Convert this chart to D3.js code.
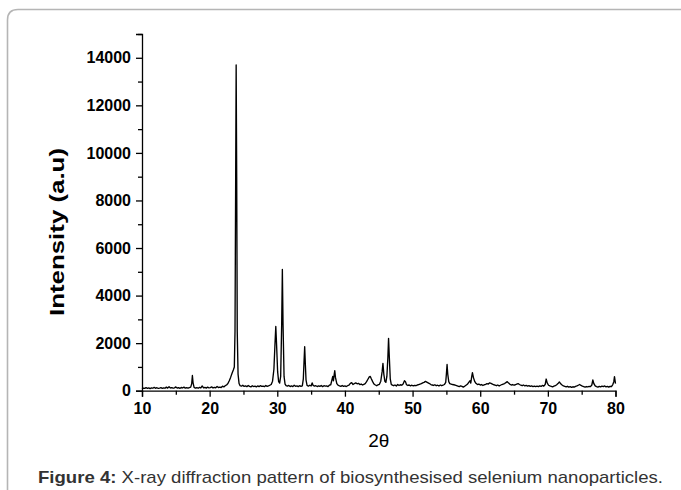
<!DOCTYPE html>
<html>
<head>
<meta charset="utf-8">
<script src="https://cdn.jsdelivr.net/npm/d3@7"></script>
<style>
  html, body { margin: 0; padding: 0; background: #fff; }
  svg { display: block; }
</style>
</head>
<body>
<svg id="chart" width="681" height="490"></svg>
<script>
// ---- data (2θ in degrees, intensity in a.u.) ----
const pattern = [
  [10,80],[10.2,110],[10.4,95],[10.6,130],[10.8,100],[11,120],[11.2,90],[11.4,115],[11.6,105],[11.8,140],
  [12,100],[12.2,125],[12.4,95],[12.6,110],[12.8,130],[13,100],[13.2,120],[13.4,105],[13.6,150],[13.8,110],
  [14,170],[14.2,115],[14.4,130],[14.6,105],[14.8,120],[15,160],[15.2,110],[15.4,125],[15.6,100],[15.8,135],
  [16,115],[16.2,150],[16.4,110],[16.6,125],[16.8,105],[17,130],[17.2,150],[17.35,300],[17.45,640],[17.55,330],
  [17.7,140],[17.9,110],[18.1,125],[18.3,105],[18.5,140],[18.7,115],[18.9,200],[19.1,120],[19.3,135],[19.5,110],
  [19.7,150],[19.9,120],[20.1,130],[20.3,160],[20.5,115],[20.7,140],[20.9,125],[21.1,180],[21.3,130],[21.5,150],
  [21.7,135],[21.9,190],[22.1,160],[22.3,210],[22.5,240],[22.7,300],[22.9,420],[23.1,560],[23.3,720],[23.5,870],
  [23.65,1000],[23.75,2500],[23.85,9000],[23.92,13700],[24.0,9000],[24.08,2500],[24.2,700],[24.35,300],[24.5,210],[24.7,190],
  [24.9,230],[25.1,180],[25.3,200],[25.5,170],[25.7,220],[25.9,180],[26.1,160],[26.3,210],[26.5,175],[26.7,190],
  [26.9,160],[27.1,200],[27.3,170],[27.5,210],[27.7,180],[27.9,195],[28.1,170],[28.3,220],[28.5,180],[28.7,200],
  [28.9,230],[29.1,260],[29.3,400],[29.5,900],[29.65,1900],[29.78,2700],[29.9,1900],[30.05,800],[30.2,380],[30.35,320],
  [30.5,600],[30.65,2800],[30.75,5100],[30.85,2800],[31.0,600],[31.15,280],[31.3,210],[31.5,190],[31.7,220],[31.9,175],
  [32.1,200],[32.3,170],[32.5,230],[32.7,185],[32.9,200],[33.1,170],[33.3,210],[33.5,180],[33.7,200],[33.85,500],
  [33.95,1200],[34.05,1850],[34.15,1100],[34.25,450],[34.4,220],[34.6,190],[34.8,230],[35.0,200],[35.15,330],[35.3,220],
  [35.5,190],[35.7,210],[35.9,175],[36.1,200],[36.3,180],[36.5,220],[36.7,170],[36.9,210],[37.1,190],[37.3,200],
  [37.5,175],[37.7,230],[37.9,250],[38.05,420],[38.2,600],[38.3,420],[38.42,700],[38.5,840],[38.6,560],[38.8,300],
  [39.0,230],[39.2,200],[39.4,180],[39.6,220],[39.8,185],[40.0,200],[40.2,175],[40.4,210],[40.6,230],[40.8,310],
  [41.0,340],[41.2,260],[41.4,300],[41.6,330],[41.8,290],[42.0,310],[42.2,260],[42.4,280],[42.6,240],[42.8,270],
  [43.0,300],[43.2,380],[43.4,480],[43.6,580],[43.75,600],[43.9,500],[44.1,380],[44.3,280],[44.5,240],[44.7,210],
  [44.9,250],[45.1,270],[45.3,400],[45.5,800],[45.62,1150],[45.75,700],[45.9,400],[46.05,350],[46.2,600],[46.35,1400],
  [46.45,2200],[46.55,1500],[46.7,500],[46.85,270],[47.0,230],[47.2,210],[47.4,240],[47.6,200],[47.8,260],[48.0,220],
  [48.2,250],[48.4,230],[48.6,280],[48.8,420],[48.95,380],[49.1,250],[49.3,220],[49.5,240],[49.7,205],[49.9,230],
  [50.1,200],[50.3,225],[50.5,210],[50.7,240],[50.9,260],[51.1,280],[51.3,300],[51.5,330],[51.7,350],[51.9,390],
  [52.1,360],[52.3,330],[52.5,300],[52.7,260],[52.9,240],[53.1,220],[53.3,250],[53.5,210],[53.7,230],[53.9,200],
  [54.1,240],[54.3,210],[54.5,230],[54.7,260],[54.9,350],[55.0,700],[55.1,1100],[55.2,700],[55.35,380],[55.5,300],
  [55.7,280],[55.9,260],[56.1,250],[56.3,230],[56.5,210],[56.7,190],[56.9,170],[57.1,200],[57.3,180],[57.5,150],
  [57.7,190],[57.9,230],[58.1,270],[58.3,350],[58.5,420],[58.6,320],[58.75,600],[58.85,760],[59.0,550],[59.2,380],
  [59.4,300],[59.6,260],[59.8,280],[60.0,240],[60.2,260],[60.4,220],[60.6,250],[60.8,270],[61.0,300],[61.2,280],
  [61.4,330],[61.6,310],[61.8,280],[62.0,250],[62.2,230],[62.4,210],[62.6,240],[62.8,200],[63.0,230],[63.2,260],
  [63.4,280],[63.6,300],[63.8,340],[64.0,380],[64.2,320],[64.4,270],[64.6,240],[64.8,260],[65.0,230],[65.2,250],
  [65.4,280],[65.6,300],[65.8,260],[66.0,230],[66.2,210],[66.4,240],[66.6,200],[66.8,220],[67.0,190],[67.2,210],
  [67.4,180],[67.6,200],[67.8,175],[68.0,195],[68.2,170],[68.4,190],[68.6,170],[68.8,200],[69.0,180],[69.2,220],
  [69.4,190],[69.6,260],[69.75,490],[69.9,330],[70.1,230],[70.3,200],[70.5,180],[70.7,160],[70.9,190],[71.1,210],
  [71.3,250],[71.5,300],[71.7,370],[71.9,290],[72.1,240],[72.3,200],[72.5,180],[72.7,160],[72.9,185],[73.1,150],
  [73.3,170],[73.5,140],[73.7,165],[73.9,150],[74.1,180],[74.3,200],[74.5,230],[74.7,260],[74.9,220],[75.1,190],
  [75.3,170],[75.5,150],[75.7,175],[75.9,160],[76.1,180],[76.3,170],[76.5,240],[76.65,450],[76.8,300],[77.0,200],
  [77.2,170],[77.4,150],[77.6,180],[77.8,160],[78.0,190],[78.2,170],[78.4,200],[78.6,160],[78.8,180],[79.0,150],
  [79.2,185],[79.4,170],[79.6,260],[79.75,380],[79.85,590],[80.0,300]
];
const xTicks = [10, 20, 30, 40, 50, 60, 70, 80];
const xMinorTicks = [15, 25, 35, 45, 55, 65, 75];
const yTicks = [0, 2000, 4000, 6000, 8000, 10000, 12000, 14000];
const yMinorTicks = [1000, 3000, 5000, 7000, 9000, 11000, 13000, 15000];
const xLabel = "2θ";
const yLabel = "Intensity (a.u)";
const captionBold = "Figure 4:";
const captionText = " X-ray diffraction pattern of biosynthesised selenium nanoparticles.";

// ---- layout ----
const svg = d3.select("#chart");
const plotLeft = 142, plotRight = 615.5, plotTop = 34, plotBottom = 390.7;

const x = d3.scaleLinear().domain([10, 80]).range([plotLeft, plotRight]);
const y = d3.scaleLinear().domain([0, 15000]).range([plotBottom, plotTop]);

// frame
svg.append("path")
  .attr("d", "M7.5,490 V20 Q7.5,9.5 18,9.5 H681")
  .attr("fill", "none")
  .attr("stroke", "#b5b5b5")
  .attr("stroke-width", 1.6);

const tickFont = "'Liberation Sans', Arial, Helvetica, sans-serif";

// x axis
const gx = svg.append("g").attr("transform", `translate(0,${plotBottom})`);
gx.call(d3.axisBottom(x).tickValues(xTicks).tickSize(6).tickPadding(5).tickFormat(d3.format("d")));
gx.append("g").call(d3.axisBottom(x).tickValues(xMinorTicks).tickSize(4).tickFormat(""))
  .select(".domain").remove();

// y axis
const gy = svg.append("g").attr("transform", `translate(${plotLeft},0)`);
gy.call(d3.axisLeft(y).tickValues(yTicks).tickSize(6).tickPadding(5).tickFormat(d3.format("d")));
gy.append("g").call(d3.axisLeft(y).tickValues(yMinorTicks).tickSize(4).tickFormat(""))
  .select(".domain").remove();

svg.selectAll(".domain").attr("stroke", "#000").attr("stroke-width", 1.3);
svg.selectAll(".tick line").attr("stroke", "#000").attr("stroke-width", 1.3);
svg.selectAll(".tick text")
  .attr("font-family", tickFont)
  .attr("font-size", 16)
  .attr("font-weight", "bold")
  .attr("fill", "#000");
gx.selectAll(".tick text").attr("dy", "0.75em");

// data line
const line = d3.line().x(d => x(d[0])).y(d => y(d[1]));
svg.append("path")
  .datum(pattern)
  .attr("d", line)
  .attr("fill", "none")
  .attr("stroke", "#000")
  .attr("stroke-width", 1.35)
  .attr("stroke-linejoin", "round");

// axis titles
svg.append("text")
  .attr("transform", `translate(64,232) rotate(-90)`)
  .attr("text-anchor", "middle")
  .attr("font-family", tickFont)
  .attr("font-size", 20)
  .attr("font-weight", "bold")
  .attr("fill", "#000")
  .attr("textLength", 168)
  .attr("lengthAdjust", "spacingAndGlyphs")
  .text(yLabel);

svg.append("text")
  .attr("x", (plotLeft + plotRight) / 2)
  .attr("y", 447)
  .attr("text-anchor", "middle")
  .attr("font-family", tickFont)
  .attr("font-size", 19)
  .attr("fill", "#000")
  .text(xLabel);

// caption
const cap = svg.append("text")
  .attr("x", 38)
  .attr("y", 483)
  .attr("font-family", "'Liberation Sans Narrow', 'Arial Narrow', 'Liberation Sans', Arial, sans-serif")
  .attr("font-size", 17)
  .attr("fill", "#333")
  .attr("textLength", 625)
  .attr("lengthAdjust", "spacingAndGlyphs");
cap.append("tspan").attr("font-weight", "bold").text(captionBold);
cap.append("tspan").text(captionText);
</script>
</body>
</html>
